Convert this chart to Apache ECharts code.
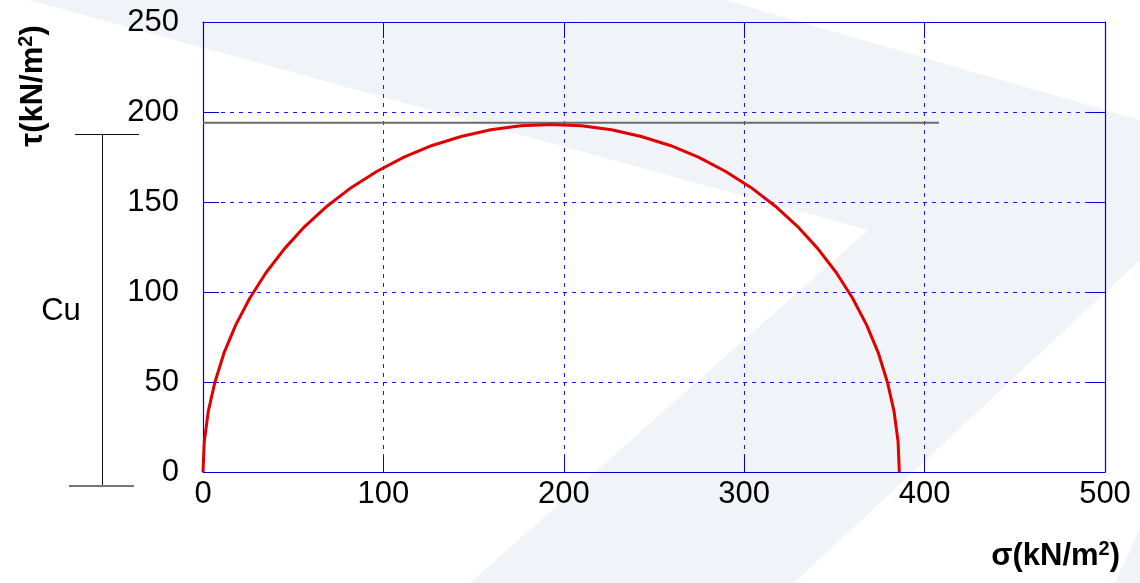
<!DOCTYPE html>
<html>
<head>
<meta charset="utf-8">
<script src="https://cdn.jsdelivr.net/npm/echarts@6/dist/echarts.min.js"></script>
<style>
  html, body { margin: 0; padding: 0; background: #ffffff; }
  #chart { width: 1140px; height: 583px; }
</style>
</head>
<body>
<div id="chart"></div>
<script>
// Mohr circle of an unconfined compression test (normal stress σ, shear stress τ)
const circleSigma = [0, 0.7, 2.9, 6.6, 11.6, 18.1, 25.9, 34.9, 45.2, 56.5, 68.9, 82.3, 96.5, 111.4, 127.0, 143.1, 159.5, 176.2, 193.0,
  209.8, 226.5, 242.9, 259.0, 274.6, 289.5, 303.7, 317.1, 329.5, 340.8, 351.1, 360.1, 367.9, 374.4, 379.4, 383.1, 385.3, 386.0];
const circleTau = [0, 16.8, 33.5, 49.9, 66.0, 81.6, 96.5, 110.7, 124.1, 136.5, 147.8, 158.1, 167.1, 174.9, 181.4, 186.4, 190.1, 192.3, 193.0,
  192.3, 190.1, 186.4, 181.4, 174.9, 167.1, 158.1, 147.8, 136.5, 124.1, 110.7, 96.5, 81.6, 66.0, 49.9, 33.5, 16.8, 0];

// horizontal envelope τ = Cu (φ = 0)
const cuSigma = [0, 408];
const cuTau = [194, 194];

// axis ticks
const sigmaTicks = [0, 100, 200, 300, 400, 500];
const tauTicks = [0, 50, 100, 150, 200, 250];

const FONT = "'Liberation Sans', Arial, Helvetica, sans-serif";
const BLUE = '#0000d0';
const GRID_BLUE = '#1a1ae6';
const SHADE = '#f0f3f7';

const zip = (a, b) => a.map((v, i) => [v, b[i]]);

const chart = echarts.init(document.getElementById('chart'), null, { renderer: 'canvas' });

function axisBase(ticks) {
  return {
    type: 'value',
    min: ticks[0],
    max: ticks[ticks.length - 1],
    interval: ticks[1] - ticks[0],
    axisLine: { show: true, onZero: false, lineStyle: { color: BLUE, width: 1.2 } },
    axisTick: { show: true, inside: true, length: 16, lineStyle: { color: BLUE, width: 1 } }
  };
}

const titleRich = {
  a: { fontSize: 31, fontWeight: 'bold', fontFamily: FONT, fill: '#000', lineHeight: 34 },
  s: { fontSize: 20, fontWeight: 'bold', fontFamily: FONT, fill: '#000', verticalAlign: 'top', lineHeight: 34 }
};

const option = {
  backgroundColor: '#ffffff',
  animation: false,
  grid: { left: 203, top: 22, width: 902, height: 450, containLabel: false },
  xAxis: [
    Object.assign(axisBase(sigmaTicks), {
      position: 'bottom',
      axisLabel: { show: true, color: '#000', fontSize: 31, fontFamily: FONT, margin: 7 },
      splitLine: { show: true, lineStyle: { color: GRID_BLUE, width: 1, type: [4, 5] } }
    }),
    Object.assign(axisBase(sigmaTicks), {
      position: 'top',
      axisLabel: { show: false },
      splitLine: { show: false }
    })
  ],
  yAxis: [
    Object.assign(axisBase(tauTicks), {
      position: 'left',
      axisLabel: { show: true, color: '#000', fontSize: 31, fontFamily: FONT, margin: 24 },
      splitLine: { show: true, lineStyle: { color: GRID_BLUE, width: 1, type: [4, 5] } }
    }),
    Object.assign(axisBase(tauTicks), {
      position: 'right',
      axisLabel: { show: false },
      splitLine: { show: false }
    })
  ],
  series: [
    {
      type: 'line',
      name: 'Cu',
      xAxisIndex: 0, yAxisIndex: 0,
      data: zip(cuSigma, cuTau),
      showSymbol: false,
      symbol: 'none',
      lineStyle: { color: '#6b6b6b', width: 2 },
      z: 3
    },
    {
      type: 'line',
      name: 'Mohr',
      xAxisIndex: 0, yAxisIndex: 0,
      data: zip(circleSigma, circleTau),
      showSymbol: false,
      symbol: 'none',
      smooth: false,
      lineStyle: { color: '#e00000', width: 3 },
      z: 4
    }
  ],
  graphic: [
    // background chevron shading
    {
      type: 'polygon', z: -10, silent: true,
      shape: { points: [[29, 0], [724, 0], [1140, 120], [1140, 260], [794, 583], [470, 583], [868, 230]] },
      style: { fill: SHADE }
    },
    {
      type: 'polygon', z: -10, silent: true,
      shape: { points: [[1115, 583], [1140, 583], [1140, 528]] },
      style: { fill: SHADE }
    },
    // Cu bracket
    {
      type: 'line', z: 5, silent: true,
      shape: { x1: 75, y1: 134.5, x2: 139, y2: 134.5 },
      style: { stroke: '#111', lineWidth: 1 }
    },
    {
      type: 'line', z: 5, silent: true,
      shape: { x1: 102.5, y1: 134.5, x2: 102.5, y2: 486 },
      style: { stroke: '#111', lineWidth: 1 }
    },
    {
      type: 'line', z: 5, silent: true,
      shape: { x1: 69, y1: 486, x2: 134, y2: 486 },
      style: { stroke: '#777', lineWidth: 2 }
    },
    {
      type: 'text', z: 5, silent: true,
      x: 61, y: 311,
      style: { text: 'Cu', font: '31px ' + FONT, fill: '#000', align: 'center', verticalAlign: 'middle' }
    },
    // axis titles
    {
      type: 'text', z: 5, silent: true,
      x: 33, y: 86, rotation: Math.PI / 2,
      style: { text: '{a|τ(kN/m}{s|2}{a|)}', align: 'center', verticalAlign: 'middle', rich: titleRich }
    },
    {
      type: 'text', z: 5, silent: true,
      x: 1120, y: 556,
      style: { text: '{a|σ(kN/m}{s|2}{a|)}', align: 'right', verticalAlign: 'middle', rich: titleRich }
    }
  ]
};

chart.setOption(option);
</script>
</body>
</html>
